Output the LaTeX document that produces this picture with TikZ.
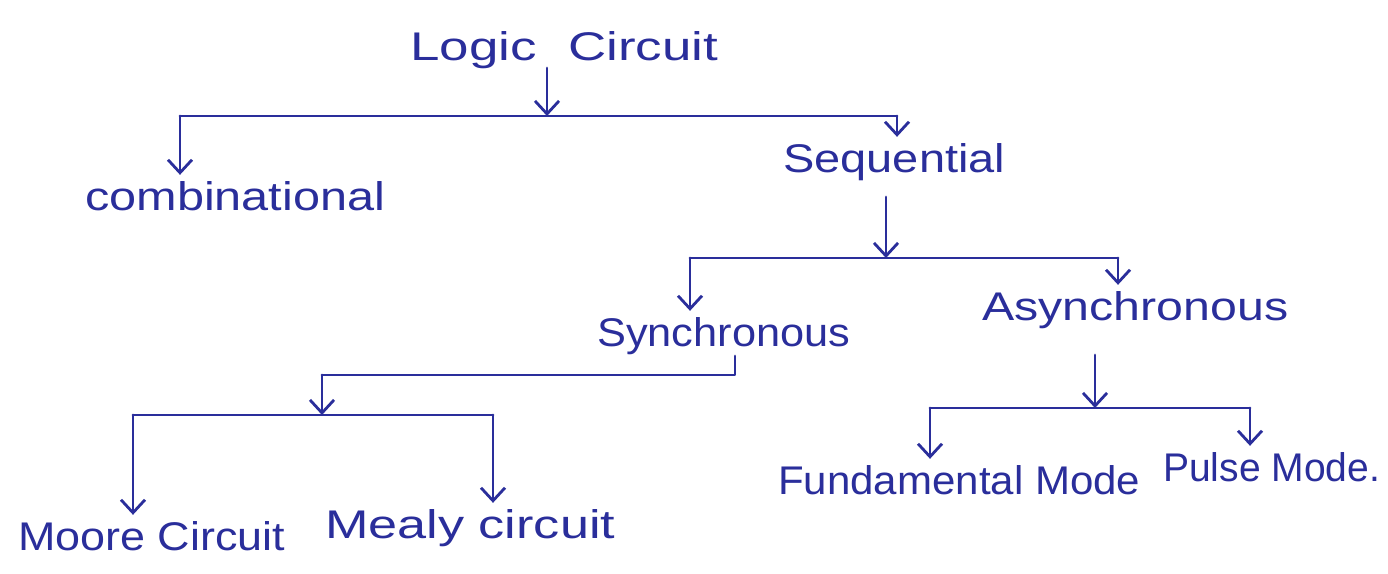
\documentclass[tikz,border=0pt]{standalone}
\usepackage{fontspec}
\setmainfont{Liberation Sans}
\usetikzlibrary{arrows.meta}
\definecolor{ink}{RGB}{42,46,155}
% set a label to a given width, keeping its natural height
\newcommand\hw[2]{\resizebox{#1pt}{\height}{#2}}

\begin{document}
\begin{tikzpicture}[x=1pt,y=-1pt,
  lbl/.style={anchor=base west, inner sep=0pt, text=ink,
              font=\fontsize{40}{40}\selectfont},
  wire/.style={draw=ink, line width=2.8pt, line cap=round, line join=round},
  arr/.style={wire, -{Straight Barb[length=13pt,width=24pt]}, shorten >=6pt}]
\useasboundingbox[fill=white] (0,0) rectangle (1388,573);

% labels
\node[lbl] (logic) at (410,60)  {\hw{308}{Logic\hspace{0.6em}Circuit}};
\node[lbl] (comb)  at (85,210)  {\hw{300}{combinational}};
\node[lbl] (seq)   at (783,172) {\hw{222}{Sequential}};
\node[lbl] (sync)  at (597,346) {\hw{253}{Synchronous}};
\node[lbl] (async) at (982,320) {\hw{306}{Asynchronous}};
\node[lbl] (moore) at (18,550)  {\hw{267}{Moore Circuit}};
\node[lbl] (mealy) at (325,538) {\hw{290}{Mealy circuit}};
\node[lbl] (fund)  at (778,494) {\hw{362}{Fundamental Mode}};
\node[lbl] (pulse) at (1163,481){\hw{217}{Pulse Mode.}};

% junction points on the bars
\coordinate (lc-out) at (547,68);
\coordinate (b1)  at (547,116);
\coordinate (b1l) at (180,116);
\coordinate (b1r) at (897,116);
\coordinate (sq-out) at (886,197);
\coordinate (b2)  at (886,258);
\coordinate (b2l) at (690,258);
\coordinate (b2r) at (1118,258);
\coordinate (sy-out) at (735,356);
\coordinate (sy-c)  at (735,375);
\coordinate (sy-l)  at (322,375);
\coordinate (b3)  at (322,415);
\coordinate (b3l) at (133,415);
\coordinate (b3r) at (493,415);
\coordinate (as-out) at (1095,355);
\coordinate (b4)  at (1095,408);
\coordinate (b4l) at (930,408);
\coordinate (b4r) at (1250,408);

% Logic Circuit
\draw[arr, shorten >=0pt] (lc-out) -- (b1);
\draw[wire] (b1l) -- (b1r);
\draw[arr] (b1l) -- (b1l |- comb.north);
\draw[arr] (b1r) -- (b1r |- seq.north);

% Sequential
\draw[arr, shorten >=0pt] (sq-out) -- (b2);
\draw[wire] (b2l) -- (b2r);
\draw[arr] (b2l) -- (b2l |- sync.north);
\draw[arr] (b2r) -- (b2r |- async.north);

% Synchronous
\draw[wire] (sy-out) -- (sy-c) -- (sy-l);
\draw[arr, shorten >=0pt] (sy-l) -- (b3);
\draw[wire] (b3l) -- (b3r);
\draw[arr] (b3l) -- (b3l |- moore.north);
\draw[arr] (b3r) -- (b3r |- mealy.north);

% Asynchronous
\draw[arr, shorten >=0pt] (as-out) -- (b4);
\draw[wire] (b4l) -- (b4r);
\draw[arr] (b4l) -- (b4l |- fund.north);
\draw[arr] (b4r) -- (b4r |- pulse.north);
\end{tikzpicture}
\end{document}
